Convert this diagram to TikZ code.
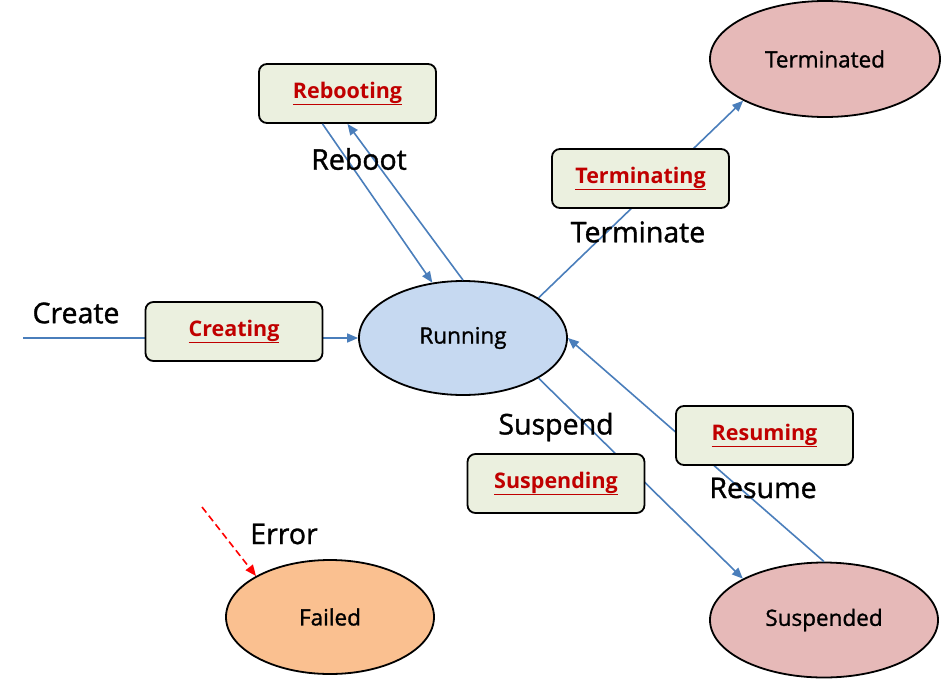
\documentclass[tikz,border=0pt]{standalone}
\usepackage{fontspec}
\setmainfont{Open Sans}
\newfontfamily\medfont{Open Sans}[FakeBold=1.2]
\usetikzlibrary{arrows.meta,calc,shapes.geometric}
\definecolor{linkblue}{HTML}{4A7EBB}
\definecolor{boxfill}{HTML}{EBF0DF}
\definecolor{boxtext}{HTML}{C00000}
\definecolor{runfill}{HTML}{C6D9F1}
\definecolor{endfill}{HTML}{E6B9B8}
\definecolor{failfill}{HTML}{FAC090}
\tikzset{
  state/.style={ellipse, draw=black, line width=1.8pt, inner sep=0pt,
    font=\medfont\fontsize{22.5}{26}\selectfont},
  actbox/.style={rectangle, rounded corners=8pt, draw=black, line width=1.8pt,
    fill=boxfill, minimum width=177pt, minimum height=59pt, inner sep=0pt,
    text=boxtext, font=\bfseries\fontsize{21.5}{26}\selectfont},
  lbl/.style={font=\medfont\fontsize{28.5}{32}\selectfont, inner sep=0pt},
  conn/.style={draw=linkblue, line width=1.6pt},
  tip/.style={-{Triangle[length=11pt,width=9pt]}},
}
\begin{document}
\begin{tikzpicture}[x=1pt,y=-1pt]
\useasboundingbox (0,0) rectangle (941,680);
% states
\node[state, fill=endfill, minimum width=230pt, minimum height=116pt] (term) at (825,59) {Terminated};
\node[state, fill=runfill, minimum width=208pt, minimum height=114pt] (run) at (463,338) {Running};
\node[state, fill=failfill, minimum width=208pt, minimum height=114pt] (fail) at (330,617) {Failed};
\node[state, fill=endfill, minimum width=228pt, minimum height=115pt] (susp) at (824,620) {Suspended};
% free ends
\coordinate (cstart) at (23,338);
\coordinate (estart) at (202,507);
% connectors (drawn below boxes)
\draw[conn, tip] (cstart) -- (run.west);
\draw[conn, tip] (run.28.7) -- (term.207);
\draw[conn, tip] (run.-28.7) -- (susp.153);
\draw[conn, tip] (susp.north) -- (run.east);
\draw[red, line width=1.6pt, dash pattern=on 7pt off 4pt, -{Triangle[length=11pt,width=9pt]}] (estart) -- (fail.151);
% activity boxes
\node[actbox] (reb) at (347.5,93.5) {\underline{Rebooting}};
\node[actbox] (tmg) at (640.5,178.5) {\underline{Terminating}};
\node[actbox] (crt) at (234,331.5) {\underline{Creating}};
\node[actbox] (rsm) at (764.5,435.5) {\underline{Resuming}};
\node[actbox] (spd) at (556,483.5) {\underline{Suspending}};
% reboot connectors
\draw[conn, tip] ($(reb.south)+(-25,0)$) -- (run.119);
\draw[conn, tip] (run.north) -- (reb.south);
% labels
\node[lbl] (lreb) at (359,159) {Reboot};
\node[lbl] (ltrm) at (638,232) {Terminate};
\node[lbl] (lcrt) at (76,313) {Create};
\node[lbl] (lspd) at (556,427) {Suspend};
\node[lbl] (lrsm) at (763,488) {Resume};
\node[lbl] (lerr) at (284,534) {Error};
\end{tikzpicture}
\end{document}
